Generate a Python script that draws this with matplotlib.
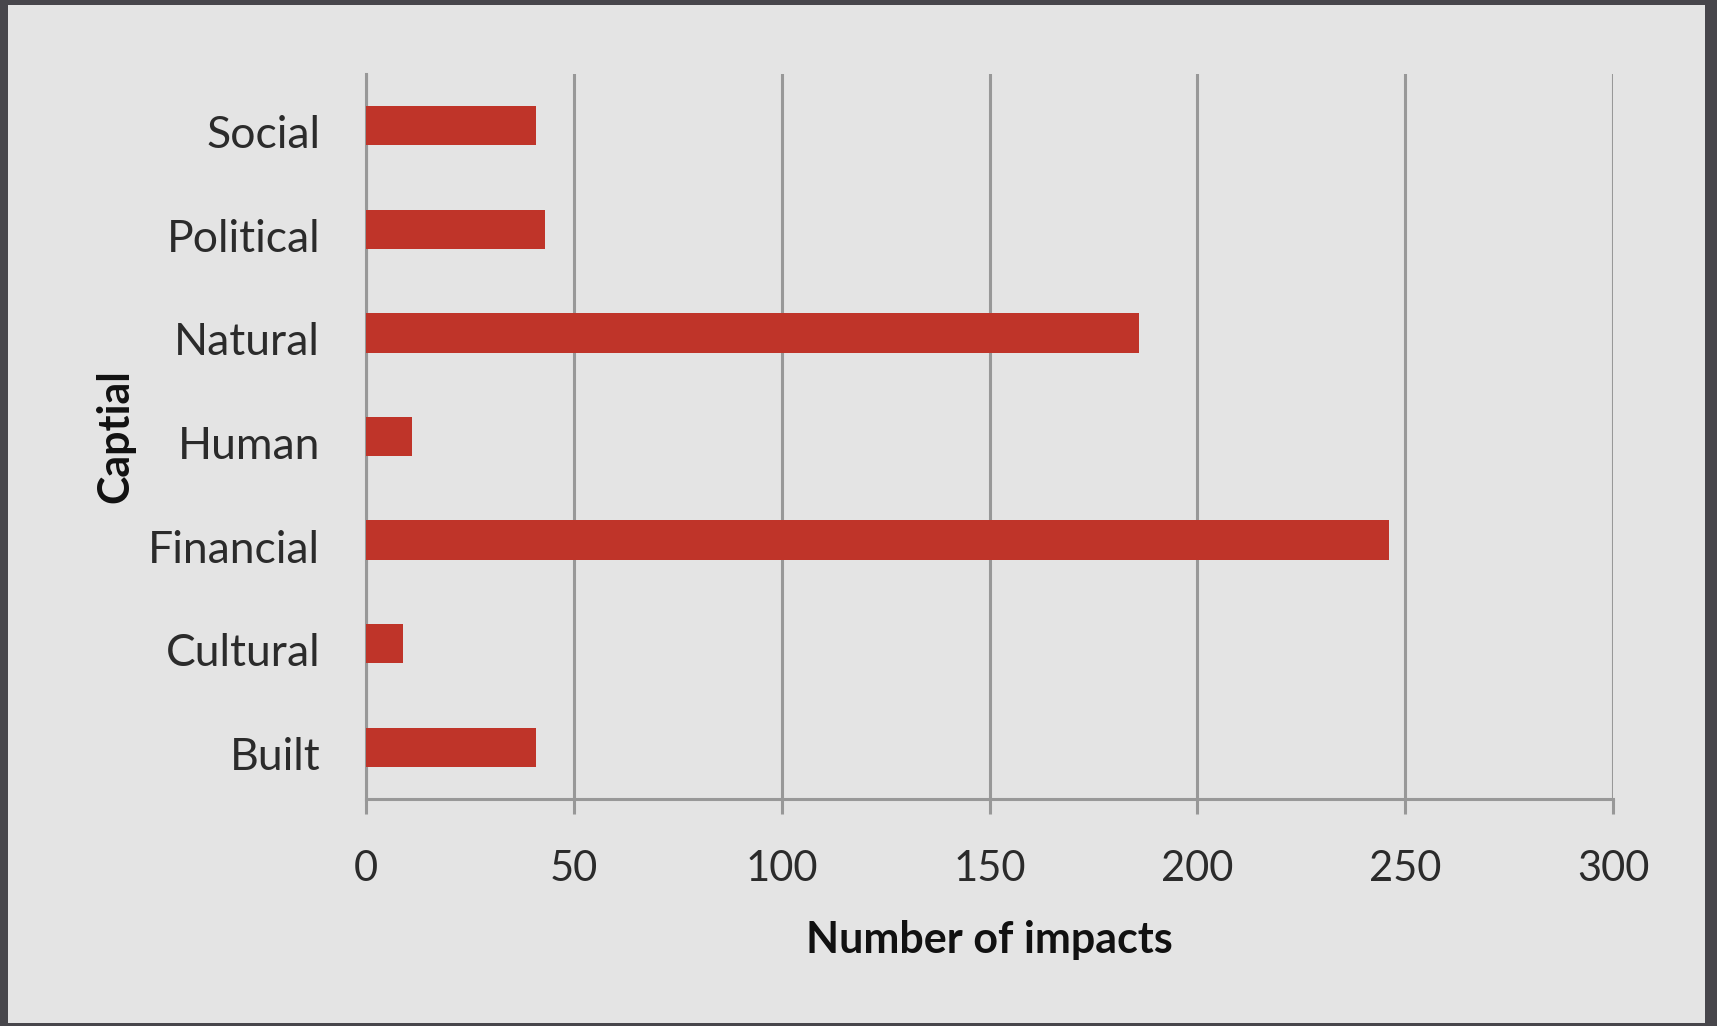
import matplotlib
matplotlib.use("Agg")
import matplotlib.pyplot as plt
import matplotlib.transforms as mtransforms
from matplotlib.patches import Rectangle

# data (bottom to top, as drawn)
categories = ["Built", "Cultural", "Financial", "Human", "Natural", "Political", "Social"]
impacts = [41, 9, 246, 11, 186, 43, 41]
xticks = [0, 50, 100, 150, 200, 250, 300]

plt.rcParams['font.family'] = ['Lato', 'DejaVu Sans']

fig = plt.figure(figsize=(17.17, 10.26), dpi=100)
fig.patch.set_facecolor("#47464b")
# light panel inside the dark frame
fig.patches.append(Rectangle((0.0047, 0.003), 0.9883, 0.992, transform=fig.transFigure,
                             facecolor="#e4e4e4", edgecolor="none", zorder=-10))

ax = fig.add_axes([0.2132, 0.2212, 0.7262, 0.7067])
ax.set_facecolor("#e4e4e4")

ax.barh(range(len(categories)), impacts, height=0.38, color="#bf3429", zorder=3)

ax.set_xlim(0, 300)
ax.set_ylim(-0.5, len(categories) - 0.5)
ax.set_xticks(xticks)
ax.set_xticklabels([str(t) for t in xticks])
ax.set_yticks(range(len(categories)))
ax.set_yticklabels(categories)

grid_col = "#989898"
ax.grid(axis="x", color=grid_col, linewidth=2.2, zorder=1)
for s in ["top", "right"]:
    ax.spines[s].set_visible(False)
for s in ["left", "bottom"]:
    ax.spines[s].set_color(grid_col)
    ax.spines[s].set_linewidth(2.2)

ax.tick_params(axis="x", length=11, width=2.2, color=grid_col, pad=26,
               labelsize=30, labelcolor="#2b2b2b")
ax.tick_params(axis="y", length=0, pad=33, labelsize=32, labelcolor="#2b2b2b")

# category labels sit a little below the bar centres in the original
shift = mtransforms.ScaledTranslation(0, -6 / 100, fig.dpi_scale_trans)
for lab in ax.get_yticklabels():
    lab.set_transform(lab.get_transform() + shift)

ax.set_xlabel("Number of impacts", fontsize=31, fontweight="bold", labelpad=23, color="#111111")
ax.set_ylabel("Captial", fontsize=31, fontweight="bold", labelpad=9, color="#111111")

fig.savefig("out.png", dpi=100, facecolor=fig.get_facecolor())
